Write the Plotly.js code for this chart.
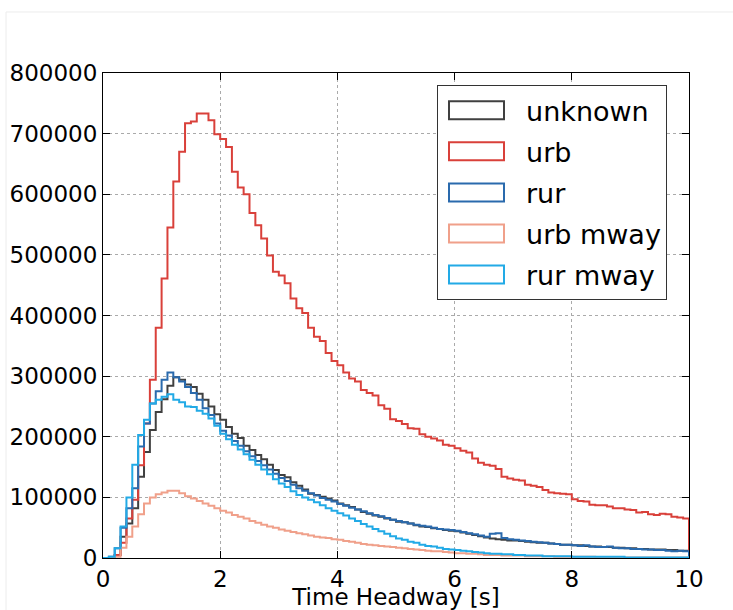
<!DOCTYPE html>
<html>
<head>
<meta charset="utf-8">
<script src="https://cdn.plot.ly/plotly-3.0.1.min.js"></script>
<style>
  html, body { margin: 0; padding: 0; background: #fff; overflow: hidden; }
  #chart { width: 733px; height: 610px; }
</style>
</head>
<body>
<div id="chart"></div>
<script>
// Histogram bins: 0 .. 10 s, width 0.1 s (counts)
var binStart = 0;
var binWidth = 0.1;

var seriesNames = ["unknown", "urb", "rur", "urb mway", "rur mway"];
var seriesColors = ["#404040", "#d9403a", "#2a6aad", "#f0a08a", "#22aae6"];
var xAxisTitle = "Time Headway [s]";

var unknownCounts = [
  0, 0, 5000, 35000, 57000, 82000, 134000, 175000, 211000, 241000,
  262000, 284000, 298000, 294000, 286000, 282000, 271000, 261000, 250000, 237000,
  228000, 216000, 205000, 198000, 185000, 178000, 170000, 163000, 154000, 145000,
  137000, 133000, 125000, 119000, 113000, 106000, 104000, 101000, 98000, 95000,
  90000, 87000, 84000, 80000, 76000, 73000, 70000, 68000, 65000, 63000,
  60000, 59000, 57000, 54000, 52000, 51000, 49000, 48000, 46000, 45000,
  44000, 42000, 40000, 38000, 36000, 34000, 32000, 31000, 30000, 29000,
  29000, 28000, 27000, 26000, 25000, 25000, 24000, 23000, 22000, 22000,
  21000, 21000, 20000, 19000, 19000, 18000, 18000, 17000, 17000, 16000,
  16000, 15000, 15000, 14000, 14000, 14000, 13000, 13000, 12000, 12000
];

var urbCounts = [
  0, 0, 5000, 25000, 65000, 96000, 153000, 222000, 294000, 380000,
  461000, 545000, 621000, 670000, 717000, 720000, 733000, 733000, 722000, 699000,
  691000, 678000, 637000, 611000, 600000, 569000, 549000, 527000, 499000, 472000,
  466000, 453000, 428000, 412000, 404000, 380000, 365000, 358000, 338000, 325000,
  318000, 306000, 296000, 291000, 277000, 272000, 268000, 252000, 246000, 229000,
  226000, 221000, 214000, 213000, 204000, 200000, 197000, 194000, 187000, 185000,
  181000, 177000, 174000, 164000, 157000, 154000, 152000, 147000, 134000, 131000,
  129000, 128000, 121000, 119000, 117000, 112000, 108000, 107000, 106000, 105000,
  97000, 94000, 93000, 88000, 87000, 87000, 85000, 82000, 82000, 80000,
  79000, 75000, 76000, 72000, 71000, 73000, 72000, 68000, 67000, 65000
];

var rurCounts = [
  0, 2000, 16000, 50000, 82000, 115000, 184000, 222000, 255000, 275000,
  294000, 306000, 298000, 291000, 282000, 272000, 261000, 247000, 236000, 222000,
  210000, 202000, 193000, 185000, 176000, 168000, 160000, 153000, 146000, 139000,
  132000, 127000, 121000, 115000, 111000, 107000, 103000, 99000, 96000, 93000,
  89000, 86000, 83000, 80000, 77000, 74000, 71000, 69000, 66000, 63000,
  61000, 59000, 57000, 55000, 53000, 52000, 50000, 48000, 47000, 46000,
  45000, 43000, 41000, 39000, 37000, 35000, 40000, 41000, 33000, 31000,
  30000, 29000, 28000, 27000, 26000, 25000, 24000, 23000, 22000, 22000,
  21000, 20000, 21000, 19000, 18000, 18000, 19000, 17000, 16000, 16000,
  15000, 15000, 14000, 14000, 13000, 13000, 12000, 11000, 12000, 11000
];

var urbMwayCounts = [
  0, 0, 2000, 17000, 35000, 52000, 72000, 90000, 100000, 105000,
  108000, 111000, 111000, 107000, 102000, 98000, 94000, 90000, 86000, 82000,
  78000, 75000, 71000, 68000, 65000, 61000, 58000, 55000, 52000, 50000,
  47000, 45000, 43000, 41000, 39000, 37000, 35000, 34000, 33000, 31000,
  30000, 28000, 27000, 25000, 23000, 22000, 21000, 20000, 19000, 18000,
  17000, 16000, 15000, 14000, 13000, 12000, 11000, 11000, 10000, 9000,
  8000, 8000, 7000, 7000, 6000, 5000, 5000, 5000, 4000, 4000,
  4000, 4000, 3000, 3000, 3000, 3000, 3000, 2000, 2000, 2000,
  2000, 2000, 2000, 2000, 1000, 1000, 1000, 1000, 1000, 1000,
  1000, 1000, 1000, 1000, 1000, 1000, 1000, 1000, 1000, 1000
];

var rurMwayCounts = [
  0, 2000, 16000, 52000, 100000, 154000, 203000, 228000, 255000, 261000,
  266000, 270000, 261000, 257000, 250000, 249000, 243000, 238000, 230000, 218000,
  205000, 196000, 187000, 179000, 171000, 162000, 154000, 146000, 138000, 130000,
  123000, 117000, 110000, 104000, 100000, 96000, 92000, 87000, 82000, 78000,
  74000, 70000, 65000, 61000, 56000, 52000, 48000, 44000, 40000, 36000,
  32000, 30000, 27000, 25000, 22000, 20000, 19000, 17000, 15000, 14000,
  13000, 12000, 11000, 10000, 9000, 8000, 7000, 7000, 6000, 6000,
  5000, 5000, 4000, 4000, 4000, 3000, 3000, 3000, 3000, 3000,
  2000, 2000, 2000, 2000, 2000, 2000, 2000, 2000, 2000, 1000,
  1000, 1000, 1000, 1000, 1000, 1000, 1000, 1000, 1000, 1000
];

var seriesCounts = [unknownCounts, urbCounts, rurCounts, urbMwayCounts, rurMwayCounts];

var xTickVals = [0, 2, 4, 6, 8, 10];
var yTickVals = [0, 100000, 200000, 300000, 400000, 500000, 600000, 700000, 800000];

// Build step outlines (like matplotlib histtype='step')
function stepTrace(counts, name, color) {
  var n = counts.length;
  var xs = [binStart], ys = [0];
  for (var i = 0; i < n; i++) {
    xs.push(+(binStart + i * binWidth).toFixed(4));
    ys.push(counts[i]);
  }
  var xEnd = +(binStart + n * binWidth).toFixed(4);
  xs.push(xEnd); ys.push(counts[n - 1]);
  xs.push(xEnd); ys.push(0);
  return {
    type: 'scatter', mode: 'lines', name: name,
    x: xs, y: ys,
    line: { shape: 'hv', color: color, width: 2 },
    legendgroup: name,
    cliponaxis: false
  };
}

var traces = seriesNames.map(function (nm, i) {
  return stepTrace(seriesCounts[i], nm, seriesColors[i]);
});

var axisFont = { family: 'DejaVu Sans, sans-serif', size: 23, color: '#000' };

var layout = {
  width: 733, height: 610,
  margin: { l: 103, r: 44, t: 73, b: 52 },
  paper_bgcolor: '#fff', plot_bgcolor: '#fff',
  font: axisFont,
  showlegend: true,
  legend: {
    x: 0.570, y: 0.975, xanchor: 'left', yanchor: 'top',
    bgcolor: '#fff', bordercolor: '#333', borderwidth: 1,
    font: { family: 'DejaVu Sans, sans-serif', size: 27, color: '#000' },
    itemwidth: 78, tracegroupgap: 3, traceorder: 'grouped'
  },
  xaxis: {
    range: [0, 10], tickvals: xTickVals, ticktext: xTickVals.map(String),
    ticks: 'inside', ticklen: 7, tickcolor: '#000', mirror: 'ticks',
    showline: true, linecolor: '#000', linewidth: 1,
    showgrid: true, gridcolor: '#aaa', griddash: 'dot', gridwidth: 1,
    zeroline: false, tickfont: axisFont,
    title: { text: xAxisTitle, font: axisFont, standoff: 8 }
  },
  yaxis: {
    range: [0, 800000], tickvals: yTickVals, ticktext: yTickVals.map(String),
    ticks: 'inside', ticklen: 7, tickcolor: '#000', mirror: 'ticks',
    showline: true, linecolor: '#000', linewidth: 1,
    showgrid: true, gridcolor: '#aaa', griddash: 'dot', gridwidth: 1,
    zeroline: false, tickfont: axisFont
  },
  shapes: [{
    type: 'rect', xref: 'paper', yref: 'paper',
    x0: -0.1655, x1: 1.1, y0: -0.2, y1: 1.1258,
    line: { color: '#ececec', width: 1 }, fillcolor: 'rgba(0,0,0,0)', layer: 'below'
  }]
};

Plotly.newPlot('chart', traces, layout, { staticPlot: true }).then(function (gd) {
  // Draw legend keys as open rectangles (matplotlib step-histogram style)
  var items = gd.querySelectorAll('.legend .traces');
  items.forEach(function (it) {
    var p = it.querySelector('.legendlines path');
    if (p) {
      p.setAttribute('d', 'M11,-9h55v18h-55z');
      p.style.fill = 'none';
    }
  });
});
</script>
</body>
</html>
